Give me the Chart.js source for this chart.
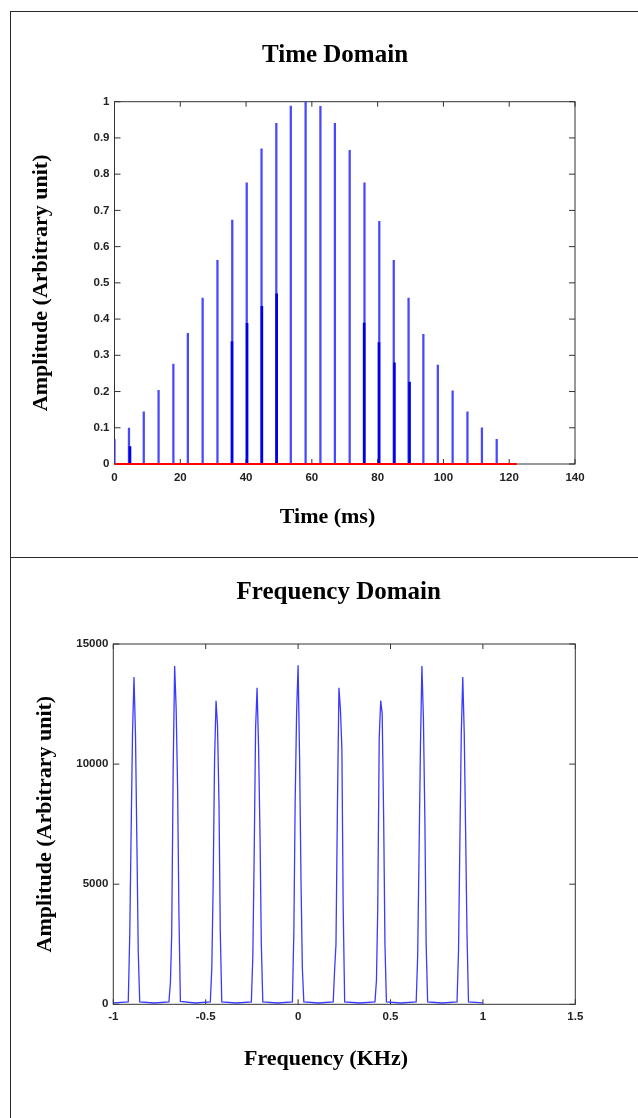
<!DOCTYPE html>
<html>
<head>
<meta charset="utf-8">
<title>Time Domain / Frequency Domain</title>
<script src="https://cdn.jsdelivr.net/npm/chart.js@4.4.1/dist/chart.umd.min.js"></script>
<style>
  html, body { margin: 0; padding: 0; background: #fff; }
  body { width: 638px; height: 1118px; position: relative; overflow: hidden; }
  .frame { position: absolute; left: 10px; top: 11px; right: 0; bottom: 0; border-left: 1px solid #2a2a2a; border-top: 1px solid #2a2a2a; }
  .split { position: absolute; left: 10px; right: 0; top: 557px; border-top: 1px solid #2a2a2a; }
  canvas { position: absolute; left: 10px; }
  #time-chart { top: 12px; }
  #freq-chart { top: 558px; }
</style>
</head>
<body>
<div class="frame"></div>
<div class="split"></div>
<canvas id="time-chart" width="628" height="545"></canvas>
<canvas id="freq-chart" width="628" height="560"></canvas>

<script>
// ---- time domain (ms / arbitrary units) ----
const stemTimes = [0, 4.4, 8.9, 13.4, 17.9, 22.3, 26.8, 31.3, 35.8, 40.2, 44.7, 49.2, 53.6, 58.1,
  62.6, 67.0, 71.5, 76.0, 80.5, 84.9, 89.4, 93.9, 98.3, 102.8, 107.3, 111.7, 116.2];
const stemAmps = [0.068, 0.099, 0.144, 0.203, 0.276, 0.361, 0.458, 0.562, 0.673, 0.776, 0.870, 0.940, 0.988, 1.0,
  0.987, 0.940, 0.866, 0.776, 0.670, 0.562, 0.458, 0.358, 0.273, 0.202, 0.144, 0.100, 0.068];
// darker overlapping stems
const sampleTimes = [4.7, 35.7, 40.3, 44.8, 49.3, 75.9, 80.4, 85.1, 89.7];
const sampleAmps = [0.048, 0.338, 0.388, 0.435, 0.470, 0.389, 0.335, 0.279, 0.226];
// red zero line
const baseTimes = [0, 122.3];
const baseAmps = [0, 0];
const timeTicks = [0, 20, 40, 60, 80, 100, 120, 140];
const timeAmpTicks = [0, 0.1, 0.2, 0.3, 0.4, 0.5, 0.6, 0.7, 0.8, 0.9, 1];

// ---- frequency domain (KHz / arbitrary units) ----
const peakCentres = [-0.888, -0.668, -0.444, -0.222, 0.0, 0.221, 0.447, 0.670, 0.891];
const binOffsets = [-0.031, -0.023, -0.016, -0.008, 0, 0.008, 0.016, 0.023, 0.031];
const peakAmps = [
  [100, 2900, 6900, 11300, 13630, 11250, 6500, 2200, 100],
  [100, 900, 2900, 9800, 14080, 12350, 9000, 3850, 120],
  [100, 1500, 4800, 10170, 12640, 11600, 8340, 3000, 100],
  [100, 2000, 6000, 11490, 13180, 10750, 7000, 2500, 100],
  [100, 3000, 8370, 12170, 14110, 10270, 5000, 1500, 100],
  [100, 1500, 2500, 8340, 13180, 12290, 10620, 4000, 100],
  [100, 1000, 4000, 11100, 12640, 12100, 7760, 2500, 100],
  [100, 2000, 6000, 10700, 14080, 11950, 7700, 2500, 100],
  [100, 2200, 6500, 11250, 13630, 11300, 6900, 2900, 100]
];
const floorFreqs = [-1, -0.778, -0.556, -0.333, -0.111, 0.111, 0.333, 0.556, 0.778, 1];
const floorAmps = [60, 55, 55, 55, 55, 55, 55, 55, 55, 60];
const freqTicks = [-1, -0.5, 0, 0.5, 1, 1.5];
const freqAmpTicks = [0, 5000, 10000, 15000];

const serif = '"Liberation Serif", "Times New Roman", serif';
const sans = '"Liberation Sans", Arial, sans-serif';
const tickFont = { family: sans, size: 11.5, weight: 'bold' };

// MATLAB style box with inward ticks on all four sides
const boxPlugin = {
  id: 'box',
  beforeDatasetsDraw(chart) {
    const { ctx, chartArea: a, scales: { x, y } } = chart;
    ctx.save();
    ctx.strokeStyle = '#333';
    ctx.lineWidth = 1;
    ctx.strokeRect(a.left, a.top, a.right - a.left, a.bottom - a.top);
    ctx.beginPath();
    x.ticks.forEach(t => {
      const px = x.getPixelForValue(t.value);
      ctx.moveTo(px, a.bottom); ctx.lineTo(px, a.bottom - 5);
      ctx.moveTo(px, a.top); ctx.lineTo(px, a.top + 5);
    });
    y.ticks.forEach(t => {
      const py = y.getPixelForValue(t.value);
      ctx.moveTo(a.left, py); ctx.lineTo(a.left + 6, py);
      ctx.moveTo(a.right, py); ctx.lineTo(a.right - 6, py);
    });
    ctx.stroke();
    ctx.restore();
  }
};

// figure title and x label sit where the original put them, not exactly on the axes centre
const captionPlugin = {
  id: 'captions',
  afterDraw(chart, args, opts) {
    const ctx = chart.ctx;
    ctx.save();
    ctx.fillStyle = '#000';
    ctx.textAlign = 'center';
    ctx.textBaseline = 'alphabetic';
    ctx.font = 'bold 25px ' + serif;
    ctx.fillText(opts.title, opts.titleX, opts.titleY);
    ctx.font = 'bold 22px ' + serif;
    ctx.fillText(opts.xLabel, opts.xLabelX, opts.xLabelY);
    ctx.restore();
  }
};

function axis(o) {
  return {
    type: 'linear',
    min: o.min,
    max: o.max,
    offset: false,
    grid: { display: false, drawTicks: false },
    border: { display: false },
    afterBuildTicks: s => { s.ticks = o.ticks.map(v => ({ value: v })); },
    afterFit: o.fit,
    ticks: { font: tickFont, color: '#222', padding: o.pad, autoSkip: false, maxRotation: 0,
      callback: v => String(v) },
    title: o.title ? { display: true, text: o.title, color: '#000',
      font: { family: serif, size: 22, weight: 'bold' }, padding: o.titlePad } : { display: false }
  };
}

new Chart(document.getElementById('time-chart'), {
  type: 'line',
  data: {
    datasets: [
      {
        label: 'zero',
        data: baseTimes.map((t, i) => ({ x: t, y: baseAmps[i] })),
        borderColor: '#ff0000',
        backgroundColor: '#ff0000',
        borderWidth: 2,
        pointRadius: 0,
        fill: false,
        clip: false,
        order: 0
      },
      {
        type: 'bar',
        data: sampleTimes.map((t, i) => ({ x: t, y: sampleAmps[i] })),
        backgroundColor: '#0000e8',
        barThickness: 2,
        grouped: false,
        order: 1
      },
      {
        type: 'bar',
        data: stemTimes.map((t, i) => ({ x: t, y: stemAmps[i] })),
        backgroundColor: '#4848ff',
        barThickness: 1.6,
        grouped: false,
        order: 2
      }
    ]
  },
  options: {
    responsive: false,
    animation: false,
    devicePixelRatio: 1,
    layout: { padding: { left: 0, right: 63, top: 89.7, bottom: 0 } },
    plugins: {
      legend: { display: false },
      tooltip: { enabled: false },
      captions: { title: 'Time Domain', titleX: 325, titleY: 50,
        xLabel: 'Time (ms)', xLabelX: 317.5, xLabelY: 511 }
    },
    scales: {
      x: axis({ min: 0, max: 140, ticks: timeTicks, pad: 7, fit: s => { s.height = 93; } }),
      y: axis({ min: 0, max: 1, ticks: timeAmpTicks, pad: 5, title: 'Amplitude (Arbitrary unit)',
        titlePad: { top: 17.8, bottom: 0 }, fit: s => { s.width = 104.5; } })
    }
  },
  plugins: [boxPlugin, captionPlugin]
});

// spectrum: floor points plus the sampled points of each peak, in frequency order
const specPoints = floorFreqs.map((f, i) => ({ x: f, y: floorAmps[i] }));
peakCentres.forEach((c, p) => {
  binOffsets.forEach((o, k) => specPoints.push({ x: +(c + o).toFixed(4), y: peakAmps[p][k] }));
});
specPoints.sort((a, b) => a.x - b.x);

new Chart(document.getElementById('freq-chart'), {
  type: 'line',
  data: {
    datasets: [{
      data: specPoints,
      borderColor: '#3a3aff',
      borderWidth: 1.3,
      pointRadius: 0,
      tension: 0
    }]
  },
  options: {
    responsive: false,
    animation: false,
    devicePixelRatio: 1,
    layout: { padding: { left: 0, right: 62.7, top: 86, bottom: 0 } },
    plugins: {
      legend: { display: false },
      tooltip: { enabled: false },
      captions: { title: 'Frequency Domain', titleX: 328.7, titleY: 41.3,
        xLabel: 'Frequency (KHz)', xLabelX: 316, xLabelY: 507 }
    },
    scales: {
      x: axis({ min: -1, max: 1.5, ticks: freqTicks, pad: 6, fit: s => { s.height = 113.7; } }),
      y: axis({ min: 0, max: 15000, ticks: freqAmpTicks, pad: 5, title: 'Amplitude (Arbitrary unit)',
        titlePad: { top: 21.8, bottom: 0 }, fit: s => { s.width = 103.3; } })
    }
  },
  plugins: [boxPlugin, captionPlugin]
});
</script>
</body>
</html>
